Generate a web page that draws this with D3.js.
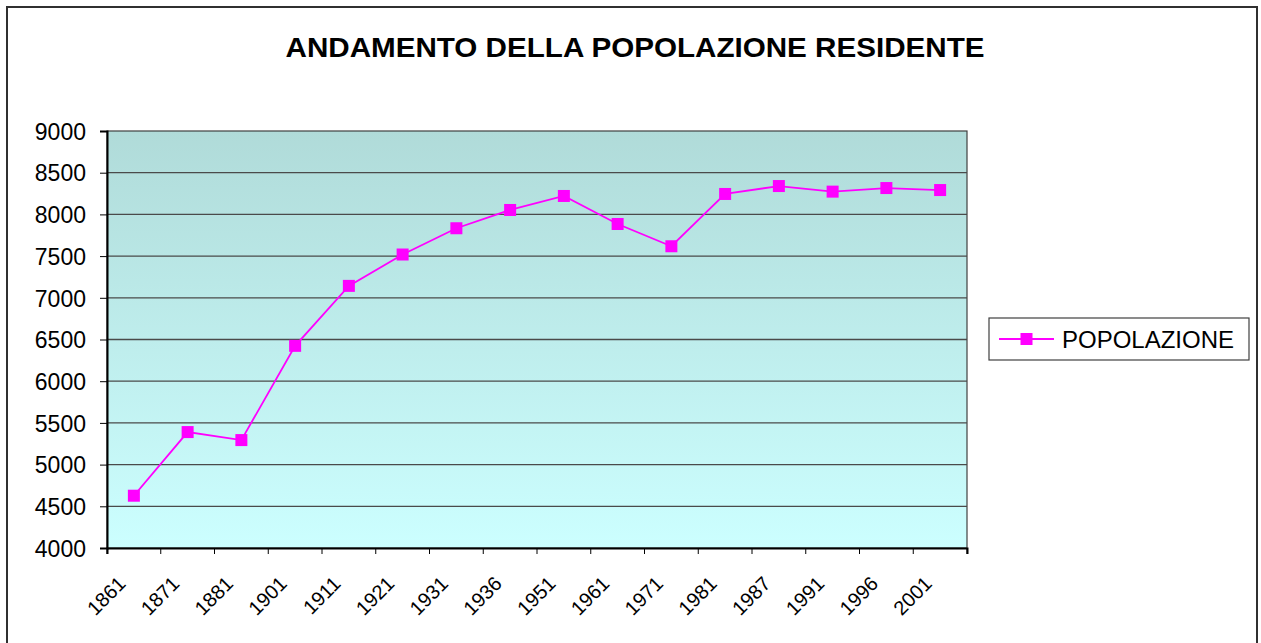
<!DOCTYPE html>
<html>
<head>
<meta charset="utf-8">
<script src="https://cdn.jsdelivr.net/npm/d3@7"></script>
<style>
  body { margin: 0; background: #fff; }
  svg { display: block; font-family: Arial, "Liberation Sans", sans-serif; }
</style>
</head>
<body>
<script>
// data
var anni = ["1861", "1871", "1881", "1901", "1911", "1921", "1931", "1936",
            "1951", "1961", "1971", "1981", "1987", "1991", "1996", "2001"];
var popolazione = [4627, 5390, 5294, 6424, 7143, 7519, 7834, 8053,
                   8221, 7885, 7618, 8245, 8340, 8273, 8316, 8292];
var yTicks = [4000, 4500, 5000, 5500, 6000, 6500, 7000, 7500, 8000, 8500, 9000];
var titolo = "ANDAMENTO DELLA POPOLAZIONE RESIDENTE";
var serie = "POPOLAZIONE";

var w = 1261, h = 643;
var pLeft = 107, pRight = 967, pTop = 131, pBottom = 548;

var svg = d3.select("body").append("svg")
  .attr("width", w)
  .attr("height", h);

// outer frame (bottom edge is off the page)
svg.append("path")
  .attr("d", "M7,650 L7,7 L1257,7 L1257,650")
  .attr("fill", "none")
  .attr("stroke", "#303030")
  .attr("stroke-width", 2);

svg.append("text")
  .attr("x", 635)
  .attr("y", 57)
  .attr("text-anchor", "middle")
  .attr("textLength", 699)
  .attr("lengthAdjust", "spacingAndGlyphs")
  .style("font-size", "28px")
  .style("font-weight", "bold")
  .text(titolo);

var grad = svg.append("defs").append("linearGradient")
  .attr("id", "bg")
  .attr("x1", 0).attr("y1", 0).attr("x2", 0).attr("y2", 1);
grad.append("stop").attr("offset", "0%").attr("stop-color", "#b0dbd9");
grad.append("stop").attr("offset", "100%").attr("stop-color", "#ccffff");

var x = d3.scaleBand()
  .domain(anni)
  .range([pLeft, pRight]);
var y = d3.scaleLinear()
  .domain([4000, 9000])
  .range([pBottom, pTop]);

svg.append("rect")
  .attr("x", pLeft).attr("y", pTop)
  .attr("width", pRight - pLeft).attr("height", pBottom - pTop)
  .attr("fill", "url(#bg)")
  .attr("stroke", "#404040")
  .attr("stroke-width", 1.2);

//gridlines
svg.selectAll(".grid")
  .data(yTicks.slice(1, -1))
  .enter()
  .append("line")
  .attr("class", "grid")
  .attr("x1", pLeft).attr("x2", pRight)
  .attr("y1", function(d) { return y(d); })
  .attr("y2", function(d) { return y(d); })
  .attr("stroke", "#4a4a4a")
  .attr("stroke-width", 1.3);

//axes
var yAxis = d3.axisLeft(y)
  .tickValues(yTicks)
  .tickSize(7)
  .tickPadding(14)
  .tickFormat(d3.format("d"));
var gy = svg.append("g")
  .attr("transform", "translate(" + pLeft + ",0)")
  .call(yAxis);
gy.select(".domain").attr("stroke", "#000").attr("stroke-width", 2);
gy.selectAll(".tick line").attr("stroke", "#000");
gy.selectAll("text")
  .attr("fill", "#000")
  .style("font-size", "23px")
  .attr("dy", "0.36em");

var xAxis = d3.axisBottom(x)
  .tickSize(6)
  .tickFormat(function(d) { return d; });
var gx = svg.append("g")
  .attr("transform", "translate(0," + pBottom + ")")
  .call(xAxis);
gx.select(".domain").attr("stroke", "#000").attr("stroke-width", 2);
// ticks sit on the band edges
gx.selectAll(".tick line")
  .attr("x1", -x.bandwidth() / 2).attr("x2", -x.bandwidth() / 2)
  .attr("stroke", "#000");
gx.append("line")
  .attr("x1", pRight).attr("x2", pRight)
  .attr("y1", 0).attr("y2", 6)
  .attr("stroke", "#000");
gx.selectAll(".tick text")
  .attr("fill", "#000")
  .style("font-size", "20px")
  .attr("text-anchor", "end")
  .attr("dy", null)
  .attr("y", 0)
  .attr("transform", "translate(-7,37) rotate(-45)");

//line + markers
var line = d3.line()
  .x(function(d, i) { return x(anni[i]) + x.bandwidth() / 2; })
  .y(function(d) { return y(d); });

svg.append("path")
  .datum(popolazione)
  .attr("d", line)
  .attr("fill", "none")
  .attr("stroke", "#ff00ff")
  .attr("stroke-width", 1.8);

var ms = 12;
svg.selectAll(".pt")
  .data(popolazione)
  .enter()
  .append("rect")
  .attr("class", "pt")
  .attr("x", function(d, i) { return x(anni[i]) + x.bandwidth() / 2 - ms / 2; })
  .attr("y", function(d) { return y(d) - ms / 2; })
  .attr("width", ms).attr("height", ms)
  .attr("fill", "#ff00ff");

//legend
var lg = svg.append("g").attr("transform", "translate(989,318)");
lg.append("rect")
  .attr("width", 260).attr("height", 42)
  .attr("fill", "#fff")
  .attr("stroke", "#404040")
  .attr("stroke-width", 1.2);
lg.append("line")
  .attr("x1", 10).attr("x2", 65)
  .attr("y1", 21).attr("y2", 21)
  .attr("stroke", "#ff00ff")
  .attr("stroke-width", 1.8);
lg.append("rect")
  .attr("x", 31.5).attr("y", 15)
  .attr("width", ms).attr("height", ms)
  .attr("fill", "#ff00ff");
lg.append("text")
  .attr("x", 73).attr("y", 30)
  .style("font-size", "24px")
  .text(serie);
</script>
</body>
</html>
